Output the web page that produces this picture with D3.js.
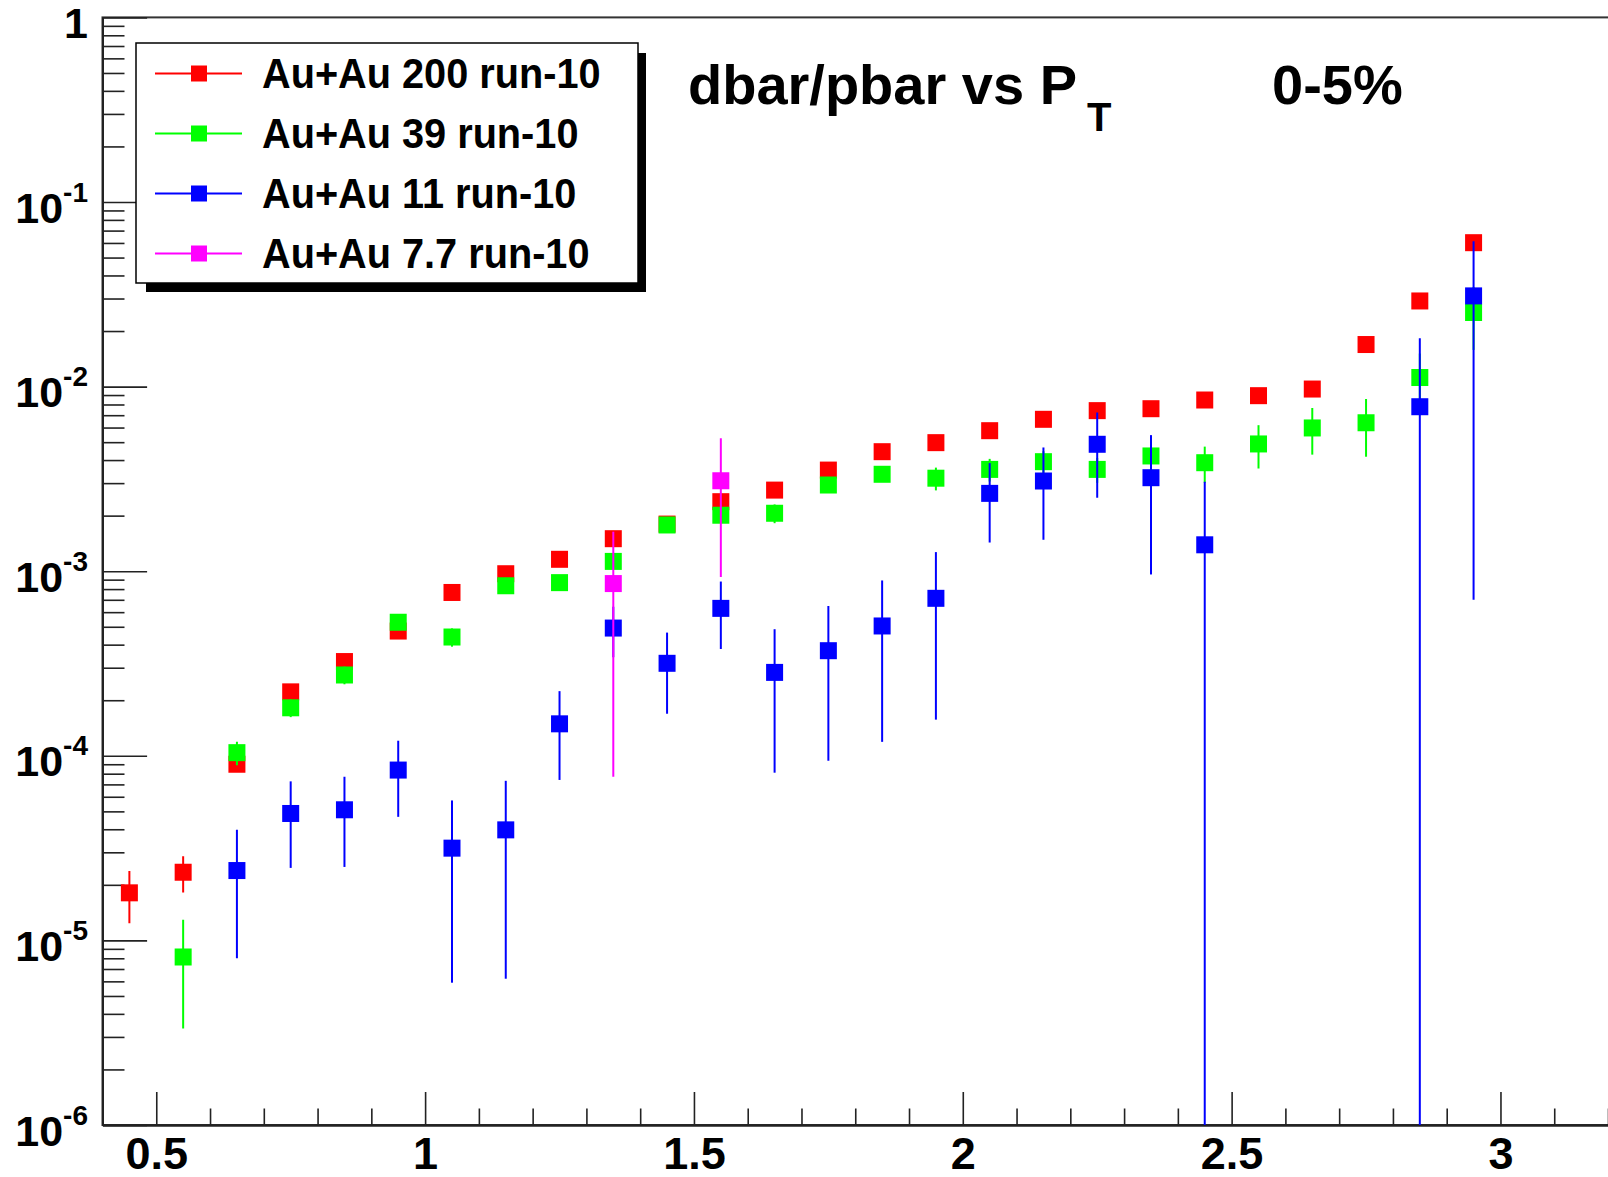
<!DOCTYPE html>
<html>
<head>
<meta charset="utf-8">
<script src="https://cdn.jsdelivr.net/npm/d3@7"></script>
<style>
  html, body { margin: 0; padding: 0; background: #fff; }
  svg { display: block; }
  text { font-family: "Liberation Sans", Arial, Helvetica, sans-serif; font-weight: bold; fill: #000; }
</style>
</head>
<body>
<div id="chart"></div>
<script>
// pT bin centres (GeV/c)
var pt = [0.45, 0.55, 0.65, 0.75, 0.85, 0.95, 1.05, 1.15, 1.25, 1.35, 1.45, 1.55, 1.65,
          1.75, 1.85, 1.95, 2.05, 2.15, 2.25, 2.35, 2.45, 2.55, 2.65, 2.75, 2.85, 2.95];

var au200 = [1.81e-5, 2.34e-5, 9.0e-5, 2.22e-4, 3.24e-4, 4.74e-4, 7.67e-4, 9.69e-4, 1.16e-3,
             1.50e-3, 1.80e-3, 2.38e-3, 2.75e-3, 3.53e-3, 4.44e-3, 4.97e-3, 5.77e-3, 6.65e-3,
             7.41e-3, 7.59e-3, 8.46e-3, 8.93e-3, 9.70e-3, 1.69e-2, 2.91e-2, 6.02e-2];
var au200Err = [0.57e-5, 0.52e-5, 0.6e-5, 1.0e-5, 1.5e-5, 2.0e-5, 3.0e-5, 3.5e-5, 4e-5,
                5e-5, 6e-5, 8e-5, 9e-5, 1.1e-4, 1.4e-4, 1.6e-4, 1.9e-4, 2.2e-4,
                2.6e-4, 2.9e-4, 3.4e-4, 4.0e-4, 4.7e-4, 8e-4, 1.3e-3, 2.5e-3];

var au39Pt = pt.slice(1);
var au39 = [8.13e-6, 1.04e-4, 1.82e-4, 2.74e-4, 5.29e-4, 4.40e-4, 8.34e-4, 8.67e-4, 1.13e-3,
            1.78e-3, 2.01e-3, 2.06e-3, 2.93e-3, 3.35e-3, 3.19e-3, 3.56e-3, 3.92e-3, 3.56e-3,
            4.21e-3, 3.87e-3, 4.89e-3, 5.97e-3, 6.37e-3, 1.12e-2, 2.52e-2];
var au39Err = [4.8e-6, 1.5e-5, 2e-5, 3e-5, 4e-5, 5e-5, 6e-5, 6e-5, 8e-5,
               1.2e-4, 1.5e-4, 2.4e-4, 2.7e-4, 2.5e-4, 4.5e-4, 5e-4, 5.5e-4, 5.5e-4,
               6e-4, 8.6e-4, 1.29e-3, 1.69e-3, 2.2e-3, 3.9e-3, 9.4e-3];

var au11Pt = [0.65, 0.75, 0.85, 0.95, 1.05, 1.15, 1.25, 1.35, 1.45, 1.55, 1.65, 1.75, 1.85,
              1.95, 2.05, 2.15, 2.25, 2.35, 2.45, 2.85, 2.95];
var au11 = [2.39e-5, 4.87e-5, 5.1e-5, 8.37e-5, 3.16e-5, 3.97e-5, 1.49e-4, 4.92e-4, 3.17e-4,
            6.29e-4, 2.83e-4, 3.71e-4, 5.05e-4, 7.13e-4, 2.64e-3, 3.08e-3, 4.87e-3, 3.21e-3,
            1.39e-3, 7.78e-3, 3.1e-2];
var au11Err = [1.59e-5, 2.4e-5, 2.6e-5, 3.7e-5, 2.57e-5, 3.35e-5, 7.5e-5, 1.5e-4, 1.48e-4,
               2.5e-4, 2.02e-4, 2.77e-4, 3.86e-4, 5.56e-4, 1.21e-3, 1.6e-3, 2.37e-3, 2.25e-3,
               1.66e-3, 1.05e-2, 3.03e-2];

var au7Pt = [1.35, 1.55];
var au7 = [8.57e-4, 3.09e-3];
var au7Err = [7.8e-4, 2.16e-3];

var legendLabels = ['Au+Au 200 run-10', 'Au+Au 39 run-10', 'Au+Au 11 run-10', 'Au+Au 7.7 run-10'];
var colors = ['#ff0000', '#00ff00', '#0000ff', '#ff00ff'];

var xMajor = [0.5, 1, 1.5, 2, 2.5, 3];
var yDecades = [-6, -5, -4, -3, -2, -1, 0];

var series = [
  { pt: pt, val: au200, err: au200Err },
  { pt: au39Pt, val: au39, err: au39Err },
  { pt: au11Pt, val: au11, err: au11Err },
  { pt: au7Pt, val: au7, err: au7Err }
];

var W = 1608, H = 1177;
var plotL = 102.5, plotT = 17.4, plotB = 1125, plotR = 1608;
var msize = 17;

var svg = d3.select('#chart').append('svg')
  .attr('width', W)
  .attr('height', H);

var x = d3.scaleLinear().domain([0.4, 3.2]).range([plotL, plotR]);
var y = d3.scaleLog().domain([1e-6, 1]).range([plotB, plotT]);

// frame (right side falls outside the picture)
svg.append('rect')
  .attr('x', plotL).attr('y', plotT)
  .attr('width', plotR + 5 - plotL).attr('height', plotB - plotT)
  .attr('fill', 'none')
  .attr('stroke', '#333')
  .attr('stroke-width', 2);

// x axis: minor then major ticks
var xMinor = d3.range(4, 33).map(function(i) { return i / 10; })
  .filter(function(v) { return Math.abs(v * 2 - Math.round(v * 2)) > 1e-6; });

var gx = svg.append('g').attr('transform', 'translate(0,' + plotB + ')');
gx.append('g')
  .call(d3.axisBottom(x).tickValues(xMinor).tickSize(-16.5).tickSizeOuter(0).tickFormat(''))
  .selectAll('text').remove();
var gxMajor = gx.append('g')
  .call(d3.axisBottom(x).tickValues(xMajor).tickSize(-33).tickSizeOuter(0)
    .tickFormat(function(d) { return String(d); }));
gx.selectAll('.domain').attr('stroke', '#222').attr('stroke-width', 2);
gx.selectAll('.tick line').attr('stroke', '#222').attr('stroke-width', 1.6);
gxMajor.selectAll('.tick text')
  .attr('y', 44).attr('dy', 0)
  .attr('font-size', 45)
  .attr('fill', '#000');

// y axis: log ticks 2..9 in each decade
var yMinor = [];
yDecades.slice(0, -1).forEach(function(e) {
  for (var m = 2; m <= 9; m++) yMinor.push(m * Math.pow(10, e));
});
var yMajor = yDecades.map(function(e) { return Math.pow(10, e); });

var gy = svg.append('g').attr('transform', 'translate(' + plotL + ',0)');
gy.append('g')
  .call(d3.axisLeft(y).tickValues(yMinor).tickSize(-22).tickSizeOuter(0).tickFormat(''))
  .selectAll('text').remove();
var gyMajor = gy.append('g')
  .call(d3.axisLeft(y).tickValues(yMajor).tickSize(-44.6).tickSizeOuter(0).tickPadding(14.5)
    .tickFormat(''));
gy.selectAll('.domain').attr('stroke', '#222').attr('stroke-width', 2);
gy.selectAll('.tick line').attr('stroke', '#222').attr('stroke-width', 1.6);

// labels as 10^n with a raised exponent
gyMajor.selectAll('.tick text')
  .attr('dy', 0).attr('y', 20)
  .attr('text-anchor', 'end')
  .attr('fill', '#000')
  .attr('font-size', 43)
  .each(function(d) {
    var t = d3.select(this);
    var e = Math.round(Math.log10(d));
    if (e === 0) { t.text('1'); return; }
    t.append('tspan').text('10');
    t.append('tspan').attr('font-size', 28).attr('dy', -21).text(String(e));
  });

// data: error bars then markers, series by series
svg.append('clipPath').attr('id', 'plotclip')
  .append('rect').attr('x', plotL).attr('y', plotT)
  .attr('width', plotR - plotL).attr('height', plotB - plotT);

var plot = svg.append('g').attr('clip-path', 'url(#plotclip)');

series.forEach(function(s, si) {
  var pts = s.pt.map(function(p, i) { return { p: p, v: s.val[i], e: s.err[i] }; });
  var g = plot.append('g');

  g.selectAll('line.err').data(pts).enter().append('line')
    .attr('class', 'err')
    .attr('x1', function(d) { return x(d.p); })
    .attr('x2', function(d) { return x(d.p); })
    .attr('y1', function(d) { return y(d.v + d.e); })
    .attr('y2', function(d) { return d.v - d.e > 0 ? y(d.v - d.e) : plotB + 5; })
    .attr('stroke', colors[si])
    .attr('stroke-width', 2);

  g.selectAll('rect.mk').data(pts).enter().append('rect')
    .attr('class', 'mk')
    .attr('x', function(d) { return x(d.p) - msize / 2; })
    .attr('y', function(d) { return y(d.v) - msize / 2; })
    .attr('width', msize)
    .attr('height', msize)
    .attr('fill', colors[si]);
});

// legend with drop shadow
var lg = svg.append('g');
lg.append('rect')
  .attr('x', 146).attr('y', 53).attr('width', 500).attr('height', 239)
  .attr('fill', '#000');
lg.append('rect')
  .attr('x', 136).attr('y', 43).attr('width', 502).attr('height', 240)
  .attr('fill', '#fff').attr('stroke', '#000').attr('stroke-width', 1.5);

var rows = lg.selectAll('g.row').data(legendLabels).enter().append('g')
  .attr('class', 'row')
  .attr('transform', function(d, i) { return 'translate(0,' + (73.5 + i * 60) + ')'; });

rows.append('line')
  .attr('x1', 155).attr('x2', 242).attr('y1', 0).attr('y2', 0)
  .attr('stroke', function(d, i) { return colors[i]; })
  .attr('stroke-width', 2);
rows.append('rect')
  .attr('x', 199 - 8).attr('y', -8).attr('width', 16).attr('height', 16)
  .attr('fill', function(d, i) { return colors[i]; });
rows.append('text')
  .attr('transform', 'translate(262,14) scale(0.945,1)')
  .attr('font-size', 42)
  .text(function(d) { return d; });

// title
var title = svg.append('text')
  .attr('x', 688).attr('y', 104)
  .attr('font-size', 56);
title.append('tspan').text('dbar/pbar vs P');
title.append('tspan').attr('font-size', 40).attr('dy', 27).attr('dx', 10).text('T');

svg.append('text')
  .attr('x', 1272).attr('y', 104)
  .attr('font-size', 56)
  .text('0-5%');
</script>
</body>
</html>
